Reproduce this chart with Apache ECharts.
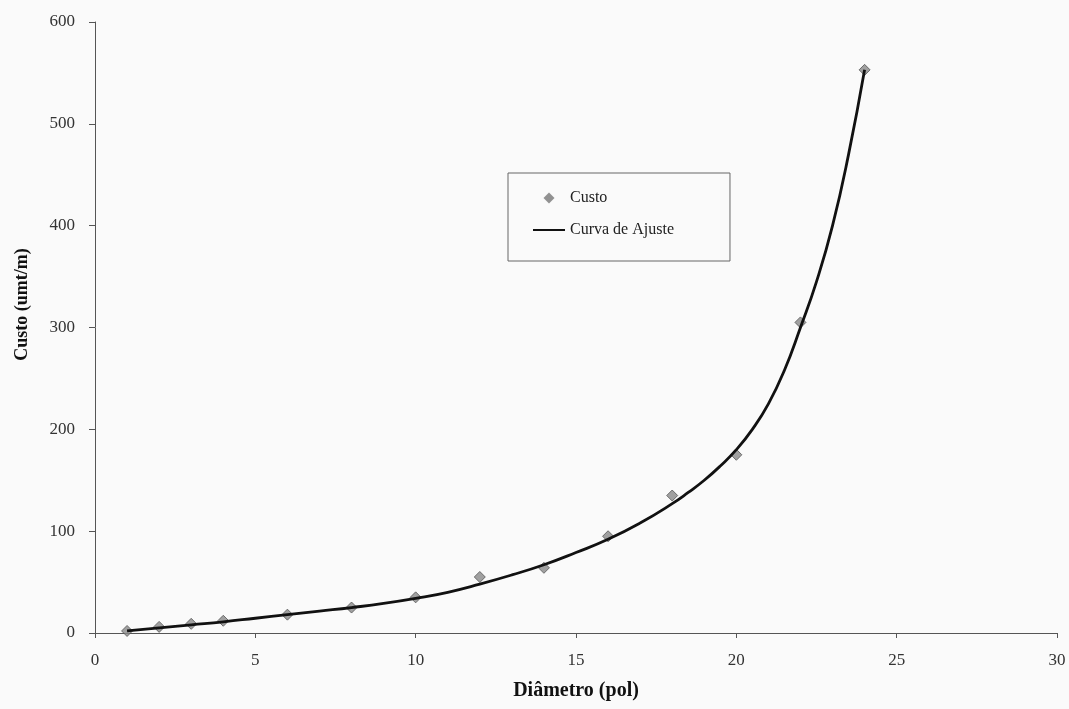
<!DOCTYPE html>
<html>
<head>
<meta charset="utf-8">
<script src="https://cdn.jsdelivr.net/npm/echarts@6/dist/echarts.min.js"></script>
<style>
html,body{margin:0;padding:0;background:#fafafa;}
#chart{width:1069px;height:709px;}
</style>
</head>
<body>
<div id="chart"></div>
<script>
// Observed data (Custo)
const diametro = [1, 2, 3, 4, 6, 8, 10, 12, 14, 16, 18, 20, 22, 24];
const custo = [2, 6, 9, 12, 18, 25, 35, 55, 64, 95, 135, 175, 305, 553];
// Fitted curve
const curvaX = [1, 2, 3, 4, 5, 6, 7, 8, 9, 10, 11, 12, 13, 14, 15, 16, 17, 18, 18.5, 19, 19.5, 20, 20.5, 21, 21.5, 22, 22.5, 23, 23.5, 24];
const curvaY = [2, 5, 8, 11, 14.5, 18, 21.5, 25, 29, 34, 40, 48, 57, 67, 79, 92, 108, 127, 138, 150, 164, 180, 200, 225, 258, 300, 345, 400, 470, 553];

const serif = '"Liberation Serif", "DejaVu Serif", serif';
const chart = echarts.init(document.getElementById('chart'));
chart.setOption({
  backgroundColor: '#fafafa',
  animation: false,
  grid: {left: 95, right: 12, top: 22, bottom: 76},
  legend: {
    orient: 'vertical',
    left: 508, top: 173,
    padding: [17, 56, 23, 25],
    borderColor: '#666', borderWidth: 1,
    itemGap: 16,
    itemWidth: 32, itemHeight: 11,
    symbolKeepAspect: true,
    textStyle: {fontFamily: serif, fontSize: 16, color: '#222'},
    data: [
      {name: 'Custo', icon: 'path://M5,0 L10,5 L5,10 L0,5 Z', itemStyle: {color: '#777', borderWidth: 0}},
      {name: 'Curva de Ajuste', icon: 'path://M0,0 L32,0 L32,2 L0,2 Z', itemStyle: {color: '#111', borderWidth: 0}}
    ]
  },
  xAxis: {
    type: 'value', min: 0, max: 30, interval: 5,
    name: 'Diâmetro (pol)', nameLocation: 'middle', nameGap: 48,
    nameTextStyle: {fontFamily: serif, fontSize: 20, fontWeight: 'bold', color: '#111'},
    axisLine: {lineStyle: {color: '#555', width: 1}},
    axisTick: {show: true, length: 5, lineStyle: {color: '#555'}},
    axisLabel: {fontFamily: serif, fontSize: 17, color: '#333', margin: 19},
    splitLine: {show: false}
  },
  yAxis: {
    type: 'value', min: 0, max: 600, interval: 100,
    name: 'Custo (umt/m)', nameLocation: 'middle', nameGap: 64, nameRotate: 90,
    nameTextStyle: {fontFamily: serif, fontSize: 18, fontWeight: 'bold', color: '#111', padding: [0, 0, 0, 46]},
    axisLine: {show: true, lineStyle: {color: '#555', width: 1}},
    axisTick: {show: true, length: 6, lineStyle: {color: '#555'}},
    axisLabel: {fontFamily: serif, fontSize: 17, color: '#333', margin: 20},
    splitLine: {show: false}
  },
  series: [
    {
      name: 'Custo', type: 'scatter', symbol: 'diamond', symbolSize: 11,
      itemStyle: {color: '#8a8a8a', borderColor: '#555', borderWidth: 1},
      data: diametro.map((d, i) => [d, custo[i]]), z: 3
    },
    {
      name: 'Curva de Ajuste', type: 'line', smooth: true, showSymbol: false,
      lineStyle: {color: '#111', width: 2.8},
      itemStyle: {color: '#111'},
      data: curvaX.map((d, i) => [d, curvaY[i]]), z: 4
    }
  ]
});
</script>
</body>
</html>
